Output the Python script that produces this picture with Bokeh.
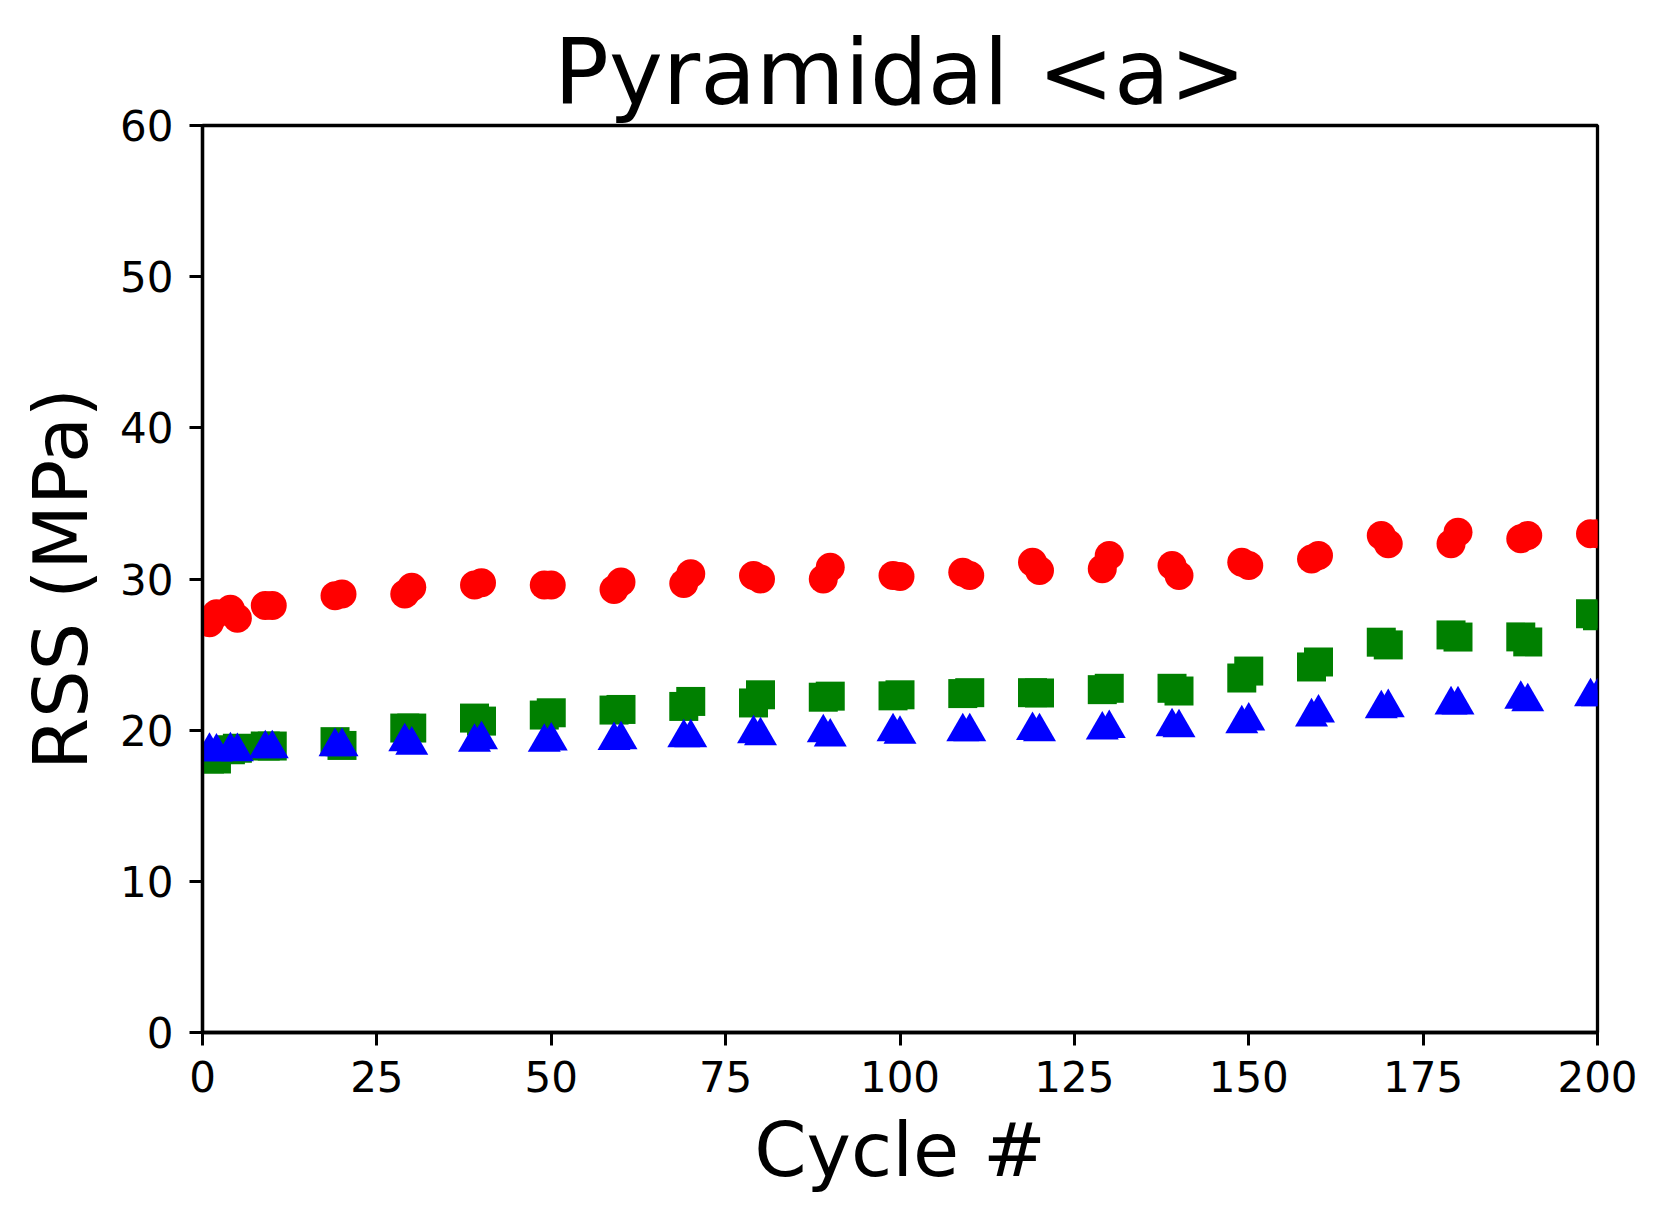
from bokeh.plotting import figure
from bokeh.models import Range1d, FixedTicker, Title
from bokeh.embed import file_html
from bokeh.resources import INLINE

cycles = [1, 2, 4, 5, 9, 10, 19, 20, 29, 30, 39, 40, 49, 50, 59, 60, 69, 70, 79, 80,
          89, 90, 99, 100, 109, 110, 119, 120, 129, 130, 139, 140, 149, 150,
          159, 160, 169, 170, 179, 180, 189, 190, 199, 200]

rss_red = [27.1, 27.7, 28.0, 27.4, 28.25, 28.25, 28.9, 29.0, 29.0, 29.45, 29.6, 29.75,
           29.6, 29.6, 29.3, 29.8, 29.7, 30.35, 30.23, 30.0, 30.0, 30.78, 30.23, 30.16,
           30.45, 30.23, 31.1, 30.56, 30.67, 31.55, 30.9, 30.23, 31.1, 30.9,
           31.33, 31.55, 32.88, 32.33, 32.33, 33.1, 32.66, 32.88, 33.0, 33.0]

rss_green = [18.1, 18.1, 18.7, 18.8, 18.95, 18.95, 19.24, 18.99, 20.14, 20.14, 20.8, 20.6,
             21.0, 21.15, 21.33, 21.37, 21.57, 21.9, 21.8, 22.34, 22.18, 22.25, 22.27, 22.34,
             22.42, 22.48, 22.48, 22.46, 22.68, 22.77, 22.77, 22.59, 23.45, 23.91,
             24.18, 24.51, 25.82, 25.64, 26.3, 26.16, 26.17, 25.84, 27.7, 27.57]

rss_blue = [18.6, 18.55, 18.63, 18.58, 18.77, 18.77, 18.91, 18.91, 19.23, 19.01, 19.2, 19.37,
            19.2, 19.28, 19.32, 19.37, 19.5, 19.5, 19.76, 19.63, 19.83, 19.55, 19.89, 19.73,
            19.89, 19.89, 19.98, 19.89, 20.01, 20.11, 20.22, 20.16, 20.42, 20.61,
            20.88, 21.13, 21.42, 21.49, 21.67, 21.67, 22.04, 21.88, 22.21, 22.21]

x_ticks = [0, 25, 50, 75, 100, 125, 150, 175, 200]
y_ticks = [0, 10, 20, 30, 40, 50, 60]

FONT = "DejaVu Sans"

p = figure(width=1650, height=1206, output_backend="svg", toolbar_location=None,
           x_range=Range1d(0, 200), y_range=Range1d(0, 60),
           min_border_left=202, min_border_right=53, min_border_top=125, min_border_bottom=174)

p.title = Title(text="Pyramidal <a>", align="center", text_font=FONT,
                text_font_size="91px", text_font_style="normal", text_color="black", standoff=2)

p.scatter(cycles, rss_red, marker="circle", size=29, fill_color="#ff0000", line_color=None)
p.scatter(cycles, rss_green, marker="square", size=29, fill_color="#008000", line_color=None)
p.scatter(cycles, rss_blue, marker="triangle", size=33, fill_color="#0000ff", line_color=None)

p.xgrid.visible = False
p.ygrid.visible = False
p.background_fill_color = "white"
p.border_fill_color = "white"
p.outline_line_color = "black"
p.outline_line_width = 3.3

p.xaxis.ticker = FixedTicker(ticks=x_ticks)
p.yaxis.ticker = FixedTicker(ticks=y_ticks)
p.xaxis.axis_label = "Cycle #"
p.yaxis.axis_label = "RSS (MPa)"

for ax in (p.xaxis[0], p.yaxis[0]):
    ax.axis_label_text_font = FONT
    ax.axis_label_text_font_size = "75px"
    ax.axis_label_text_font_style = "normal"
    ax.axis_label_text_color = "black"
    ax.major_label_text_font = FONT
    ax.major_label_text_font_size = "42px"
    ax.major_label_text_color = "black"
    ax.axis_line_color = "black"
    ax.axis_line_width = 3.3
    ax.major_tick_line_color = "black"
    ax.major_tick_line_width = 3
    ax.major_tick_out = 13
    ax.major_tick_in = 0
    ax.minor_tick_line_color = None

p.xaxis.major_label_standoff = 15
p.xaxis.axis_label_standoff = 11
p.yaxis.major_label_standoff = 16
p.yaxis.axis_label_standoff = 12

open("out.html", "w").write(file_html(p, INLINE))
